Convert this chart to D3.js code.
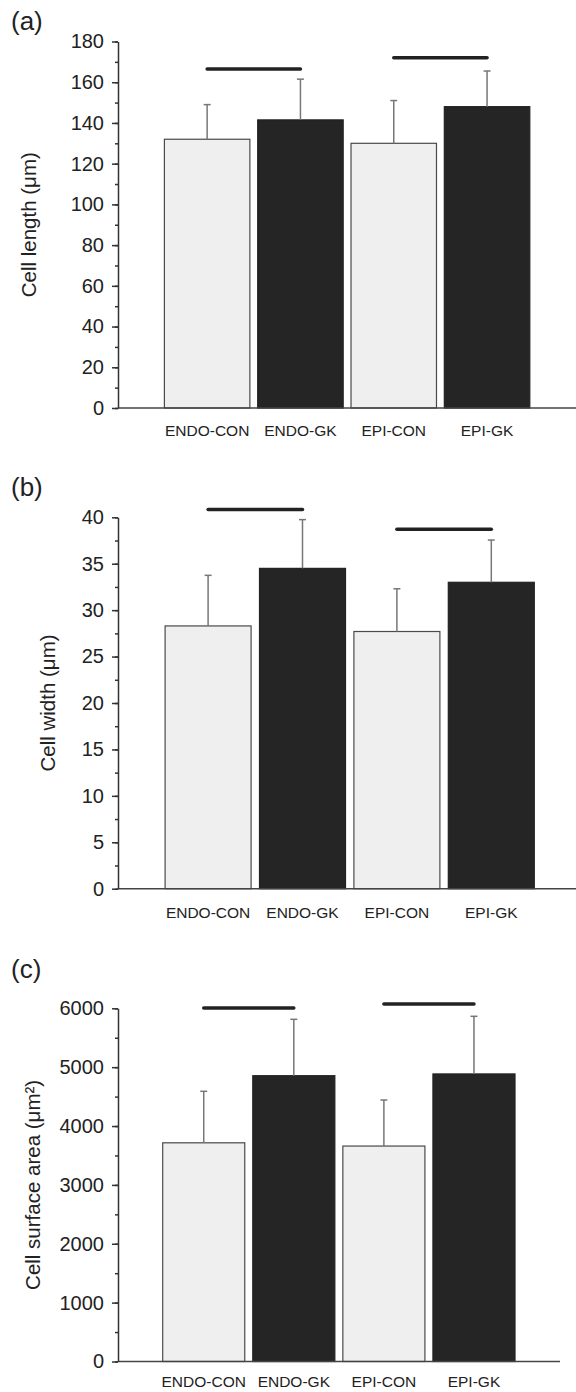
<!DOCTYPE html>
<html>
<head>
<meta charset="utf-8">
<script src="https://cdn.jsdelivr.net/npm/d3@7/dist/d3.min.js"></script>
<style>
body { margin: 0; background: #fff; }
text { font-family: "Liberation Sans", Arial, Helvetica, sans-serif; fill: #222; }
</style>
</head>
<body>
<svg id="fig" width="576" height="1392"></svg>
<script>
// groups on the x axis
const groups = ["ENDO-CON", "ENDO-GK", "EPI-CON", "EPI-GK"];

// (a) cell length, um
const lengthMean = [132, 141.5, 130, 148];
const lengthSD = [17, 20, 21, 17.5];
const lengthSig = [166.5, 172];

// (b) cell width, um
const widthMean = [28.3, 34.5, 27.7, 33];
const widthSD = [5.45, 5.25, 4.6, 4.55];
const widthSig = [40.85, 38.7];

// (c) cell surface area, um^2
const areaMean = [3715, 4855, 3660, 4885];
const areaSD = [875, 958, 782, 979];
const areaSig = [6005, 6073];

// pairs joined by the significance bars
const sigPairs = [["ENDO-CON", "ENDO-GK"], ["EPI-CON", "EPI-GK"]];

const svg = d3.select("#fig");
const axisX = 118;

const panels = [
  { tag: "(a)", tagY: 29.5, title: "Cell length (\u03bcm)", titleX: 29,
    mean: lengthMean, sd: lengthSD, sig: lengthSig,
    yMax: 180, major: 20, minor: 10, top: 41.5, bottom: 408,
    x0: 164.4, x1: 529.8, pad: 0.084, xEnd: 576, labelY: 436 },
  { tag: "(b)", tagY: 496, title: "Cell width (\u03bcm)", titleX: 48,
    mean: widthMean, sd: widthSD, sig: widthSig,
    yMax: 40, major: 5, minor: 2.5, top: 517.3, bottom: 888.7,
    x0: 165.1, x1: 534.3, pad: 0.089, xEnd: 576, labelY: 918 },
  { tag: "(c)", tagY: 977.5, title: "Cell surface area (\u03bcm\u00b2)", titleX: 33,
    mean: areaMean, sd: areaSD, sig: areaSig,
    yMax: 6000, major: 1000, minor: 500, top: 1008.3, bottom: 1361.5,
    x0: 162.7, x1: 515, pad: 0.089, xEnd: 560, labelY: 1387 }
];

function drawPanel(p) {
  const g = svg.append("g");
  const y = d3.scaleLinear().domain([0, p.yMax]).range([p.bottom, p.top]);
  const x = d3.scaleBand().domain(groups).range([p.x0, p.x1]).paddingInner(p.pad);
  const rows = groups.map((k, i) => ({ k: k, m: p.mean[i], s: p.sd[i] }));

  // bars
  g.selectAll(".bar")
    .data(rows)
    .enter()
    .append("rect")
    .attr("class", "bar")
    .attr("x", d => x(d.k))
    .attr("width", x.bandwidth())
    .attr("y", d => y(d.m))
    .attr("height", d => y(0) - y(d.m))
    .attr("fill", (d, i) => i % 2 ? "#252525" : "#efefef")
    .attr("stroke", (d, i) => i % 2 ? "#222" : "#4a4a4a")
    .attr("stroke-width", 1.2);

  // error bars (upper only)
  const eb = g.selectAll(".err").data(rows).enter().append("g").attr("class", "err")
    .attr("stroke", "#777").attr("stroke-width", 1.5);
  eb.append("line")
    .attr("x1", d => x(d.k) + x.bandwidth() / 2)
    .attr("x2", d => x(d.k) + x.bandwidth() / 2)
    .attr("y1", d => y(d.m))
    .attr("y2", d => y(d.m + d.s));
  eb.append("line")
    .attr("x1", d => x(d.k) + x.bandwidth() / 2 - 3.5)
    .attr("x2", d => x(d.k) + x.bandwidth() / 2 + 3.5)
    .attr("y1", d => y(d.m + d.s))
    .attr("y2", d => y(d.m + d.s));

  // significance bars
  g.selectAll(".sig")
    .data(sigPairs)
    .enter()
    .append("line")
    .attr("class", "sig")
    .attr("x1", d => x(d[0]) + x.bandwidth() / 2)
    .attr("x2", d => x(d[1]) + x.bandwidth() / 2)
    .attr("y1", (d, i) => y(p.sig[i]))
    .attr("y2", (d, i) => y(p.sig[i]))
    .attr("stroke", "#222")
    .attr("stroke-width", 3.5)
    .attr("stroke-linecap", "round");

  // x axis line
  g.append("line")
    .attr("x1", axisX).attr("x2", p.xEnd)
    .attr("y1", y(0)).attr("y2", y(0))
    .attr("stroke", "#444").attr("stroke-width", 1.5);

  // minor ticks
  const minorAx = g.append("g")
    .attr("transform", `translate(${axisX},0)`)
    .call(d3.axisLeft(y).tickValues(d3.range(0, p.yMax + 1e-9, p.minor)).tickSize(3).tickFormat(""));
  minorAx.select(".domain").remove();
  minorAx.selectAll("line").attr("stroke", "#333").attr("stroke-width", 1.5);

  // major ticks + labels
  const ax = g.append("g")
    .attr("transform", `translate(${axisX},0)`)
    .call(d3.axisLeft(y).tickValues(d3.range(0, p.yMax + 1e-9, p.major))
      .tickSize(6).tickSizeOuter(0).tickPadding(8).tickFormat(d3.format("d")));
  ax.select(".domain").attr("stroke", "#333").attr("stroke-width", 1.5);
  ax.selectAll("line").attr("stroke", "#333").attr("stroke-width", 1.5);
  ax.selectAll("text")
    .style("font-family", "'Liberation Sans', Arial, sans-serif")
    .attr("font-size", 20)
    .attr("fill", "#222");

  // group labels
  g.selectAll(".xlab")
    .data(groups)
    .enter()
    .append("text")
    .attr("class", "xlab")
    .attr("x", d => x(d) + x.bandwidth() / 2)
    .attr("y", p.labelY)
    .attr("text-anchor", "middle")
    .attr("font-size", 15.5)
    .text(d => d);

  // y title
  g.append("text")
    .attr("transform", `translate(${p.titleX},${(p.top + p.bottom) / 2}) rotate(-90)`)
    .attr("text-anchor", "middle")
    .attr("dy", "0.35em")
    .attr("font-size", 20.5)
    .text(p.title);

  // panel tag
  g.append("text")
    .attr("x", 11)
    .attr("y", p.tagY)
    .attr("font-size", 26)
    .text(p.tag);
}

panels.forEach(drawPanel);
</script>
</body>
</html>
